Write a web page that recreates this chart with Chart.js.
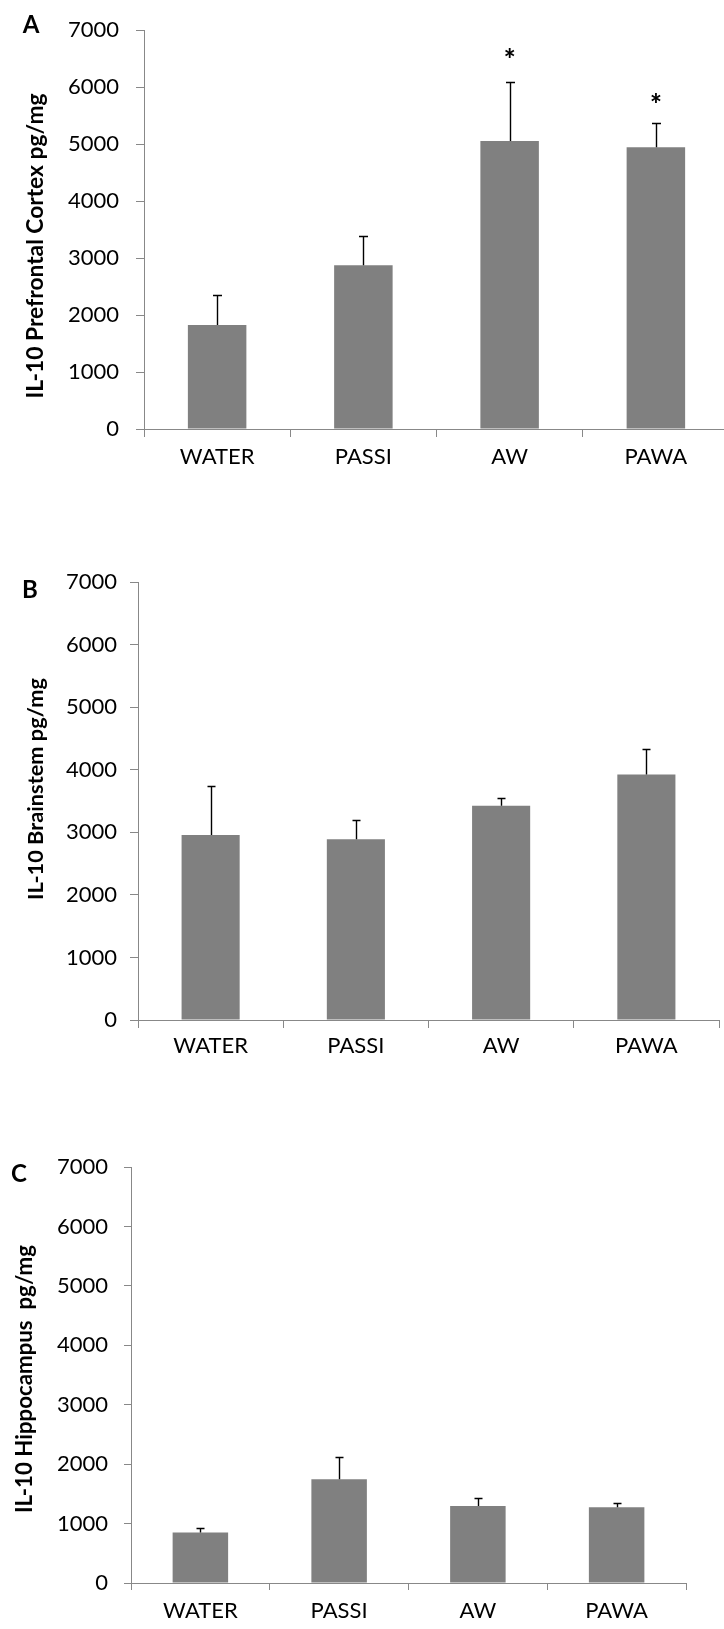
<!DOCTYPE html>
<html>
<head>
<meta charset="utf-8">
<script src="https://cdn.jsdelivr.net/npm/chart.js@4.4.0/dist/chart.umd.min.js"></script>
<style>
html, body { margin: 0; padding: 0; background: #fff; }
body { width: 724px; height: 1629px; overflow: hidden; position: relative; }
.panel { position: absolute; left: 0; }
canvas { display: block; }
</style>
</head>
<body>
<div class="panel" style="top:0px"><canvas id="cA" width="730" height="480"></canvas></div>
<div class="panel" style="top:540px"><canvas id="cB" width="724" height="531"></canvas></div>
<div class="panel" style="top:1110px"><canvas id="cC" width="724" height="519"></canvas></div>
<script>
// ---- data ----
const categories = ["WATER", "PASSI", "AW", "PAWA"];
const yTickValues = [0, 1000, 2000, 3000, 4000, 5000, 6000, 7000];

const prefrontalMeans = [1825, 2875, 5055, 4945];
const prefrontalErrors = [520, 515, 1040, 425];
const prefrontalMarks = ["", "", "*", "*"];
const prefrontalMarkLevels = [null, null, 6600, 5810];

const brainstemMeans = [2955, 2890, 3425, 3925];
const brainstemErrors = [785, 300, 120, 410];

const hippocampusMeans = [850, 1745, 1295, 1275];
const hippocampusErrors = [73, 380, 130, 73];

const titles = {
  A: "IL-10 Prefrontal Cortex pg/mg",
  B: "IL-10 Brainstem pg/mg",
  C: "IL-10 Hippocampus  pg/mg"
};

// ---- drawing helpers ----
const AXIS = '#888888';
const FONT = 'Lato, "Open Sans", sans-serif';
const TICK_SIZE = 22;

const annotPlugin = {
  id: 'annot',
  afterDatasetsDraw(chart, args, o) {
    const ctx = chart.ctx;
    const meta = chart.getDatasetMeta(0);
    const ys = chart.scales.y;
    ctx.save();
    ctx.strokeStyle = '#000';
    ctx.lineWidth = 1.4;
    meta.data.forEach((bar, i) => {
      const top = Math.round(ys.getPixelForValue(o.means[i] + o.errors[i])) + 0.5;
      const x = Math.round(bar.x) + 0.5;
      ctx.beginPath();
      ctx.moveTo(x, bar.y);
      ctx.lineTo(x, top);
      ctx.moveTo(x - o.cap, top);
      ctx.lineTo(x + o.cap, top);
      ctx.stroke();
      if (o.marks && o.marks[i]) {
        ctx.fillStyle = '#000';
        ctx.font = '900 28px ' + FONT;
        ctx.textAlign = 'center';
        ctx.textBaseline = 'alphabetic';
        const m = ctx.measureText(o.marks[i]);
        const a = m.actualBoundingBoxAscent || 0;
        const d = m.actualBoundingBoxDescent || 0;
        const my = ys.getPixelForValue(o.markLevels[i]);
        ctx.fillText(o.marks[i], bar.x, my + (a - d) / 2);
      }
    });
    ctx.restore();
  },
  afterDraw(chart, args, o) {
    const ctx = chart.ctx;
    ctx.save();
    ctx.fillStyle = '#000';
    ctx.font = 'bold 24px ' + FONT;
    ctx.textAlign = 'center';
    ctx.textBaseline = 'alphabetic';
    ctx.fillText(o.letter, o.letterX, o.letterY);
    ctx.font = 'bold 20px ' + FONT;
    const w = ctx.measureText(o.title).width;
    const size = 20 * o.titleLen / w;
    ctx.font = 'bold ' + size.toFixed(2) + 'px ' + FONT;
    ctx.translate(o.titleX, o.titleY);
    ctx.rotate(-Math.PI / 2);
    ctx.textBaseline = 'middle';
    ctx.fillText(o.title, 0, 0);
    ctx.restore();
  }
};

function makeChart(id, means, errors, g, extra) {
  const ctx = document.getElementById(id);
  return new Chart(ctx, {
    type: 'bar',
    data: {
      labels: categories,
      datasets: [{
        data: means,
        backgroundColor: '#808080',
        borderWidth: 0,
        barPercentage: 0.4,
        categoryPercentage: 1.0
      }]
    },
    options: {
      responsive: false,
      animation: false,
      events: [],
      layout: { padding: { top: g.top, right: g.right, bottom: 0, left: 0 } },
      plugins: {
        legend: { display: false },
        tooltip: { enabled: false },
        annot: Object.assign({ means: means, errors: errors, cap: g.cap }, extra)
      },
      scales: {
        x: {
          offset: true,
          grid: { offset: true, drawOnChartArea: false, drawTicks: true, tickLength: g.tickLen, color: AXIS },
          border: { display: true, color: AXIS, width: 1 },
          ticks: { color: '#000', font: { family: FONT, size: TICK_SIZE }, padding: g.xPad, maxRotation: 0 },
          afterFit: (s) => { s.height = g.xHeight; }
        },
        y: {
          min: 0, max: 7000,
          afterBuildTicks: (s) => { s.ticks = yTickValues.map(v => ({ value: v })); },
          grid: { drawOnChartArea: false, drawTicks: true, tickLength: g.tickLen, color: AXIS },
          border: { display: true, color: AXIS, width: 1 },
          ticks: { color: '#000', font: { family: FONT, size: TICK_SIZE }, padding: g.yPad,
                   callback: (v) => String(v) },
          afterFit: (s) => { s.width = g.left; }
        }
      }
    },
    plugins: [annotPlugin]
  });
}

function build() {
  makeChart('cA', prefrontalMeans, prefrontalErrors,
    { top: 17, right: 1, left: 144, xHeight: 51, tickLen: 8, xPad: 7, yPad: 17, cap: 4.5 },
    { letter: 'A', letterX: 31, letterY: 33, title: titles.A, titleX: 36, titleY: 246, titleLen: 305,
      marks: prefrontalMarks, markLevels: prefrontalMarkLevels });
  makeChart('cB', brainstemMeans, brainstemErrors,
    { top: 42, right: 5, left: 138, xHeight: 51, tickLen: 8, xPad: 5, yPad: 13, cap: 4 },
    { letter: 'B', letterX: 30, letterY: 58, title: titles.B, titleX: 36, titleY: 249, titleLen: 222 });
  makeChart('cC', hippocampusMeans, hippocampusErrors,
    { top: 57, right: 38, left: 131, xHeight: 46, tickLen: 7, xPad: 8, yPad: 16, cap: 4 },
    { letter: 'C', letterX: 19, letterY: 72, title: titles.C, titleX: 25, titleY: 269, titleLen: 268 });
}

if (document.fonts && document.fonts.load) {
  Promise.all([document.fonts.load('22px Lato'), document.fonts.load('bold 22px Lato')])
    .then(build, build);
} else {
  build();
}
</script>
</body>
</html>
